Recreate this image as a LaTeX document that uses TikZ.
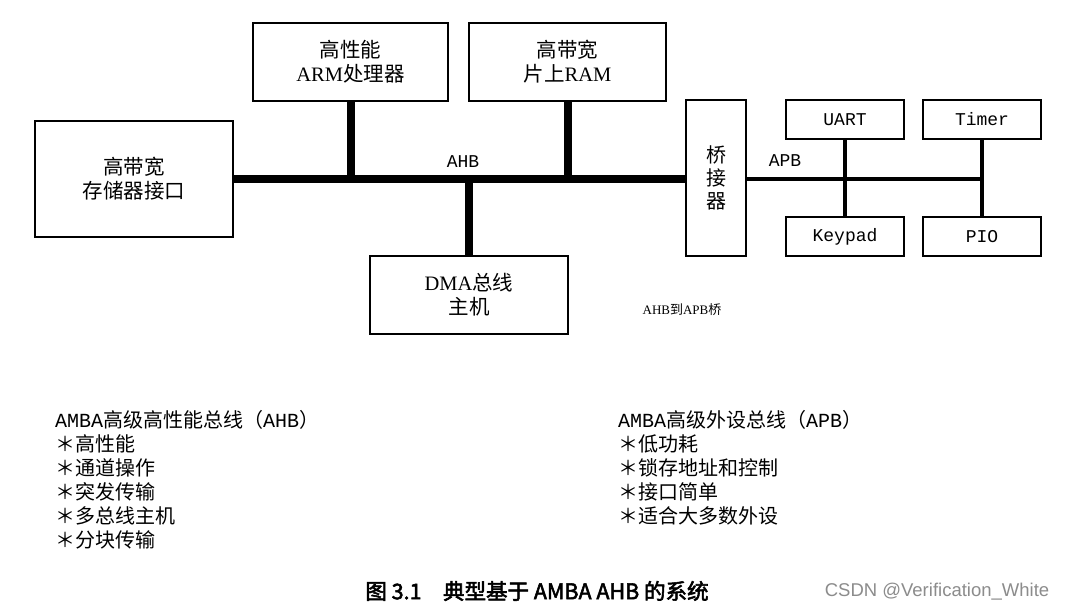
\documentclass[tikz,border=0pt]{standalone}
\usepackage{fontspec}
\setmainfont{Noto Sans CJK SC}
\newfontfamily\monofnt{Liberation Mono}
\newfontfamily\serfnt{Liberation Serif}
\newfontfamily\capfont[FakeBold=2.5]{Noto Sans CJK SC}
\newfontfamily\wmfont{Liberation Sans}
\newcommand\lm[1]{{\monofnt #1}}
\newcommand\lsr[1]{{\serfnt #1}}
\begin{document}
\begin{tikzpicture}[x=1pt,y=-1pt,
  box/.style={draw, line width=1.2pt, inner sep=0pt, align=center,
    font=\fontsize{20.5}{24}\selectfont},
  mbox/.style={box, font=\monofnt\fontsize{18}{22}\selectfont},
  ahb/.style={line width=8pt},
  apb/.style={line width=3.5pt},
  lbl/.style={inner sep=0pt, font=\monofnt\fontsize{18}{22}\selectfont},
  listtxt/.style={inner sep=0pt, anchor=north west, align=left,
    font=\fontsize{20}{24}\selectfont}]
\useasboundingbox (0,0) rectangle (1065,612);
\fill[white] (0,0) rectangle (1065,612);
% AHB side boxes
\node[box, minimum width=198pt, minimum height=116pt] (mem) at (134,179) {高带宽\\存储器接口};
\node[box, minimum width=195pt, minimum height=78pt] (arm) at (350.5,62) {高性能\\\lsr{ARM}处理器};
\node[box, minimum width=197pt, minimum height=78pt] (ram) at (567.5,62) {高带宽\\片上\lsr{RAM}};
\node[box, minimum width=198pt, minimum height=78pt] (dma) at (469,295) {\lsr{DMA}总线\\主机};
\node[box, minimum width=60pt, minimum height=156pt, font=\fontsize{20}{23}\selectfont] (bridge) at (716,178) {桥\\接\\器};
% APB side boxes
\node[mbox, minimum width=118pt, minimum height=39pt] (uart) at (845,119.5) {UART};
\node[mbox, minimum width=118pt, minimum height=39pt] (timer) at (982,119.5) {Timer};
\node[mbox, minimum width=118pt, minimum height=39pt] (keypad) at (845,236.5) {Keypad};
\node[mbox, minimum width=118pt, minimum height=39pt] (pio) at (982,236.5) {PIO};
% AHB bus
\coordinate (ahbL) at (mem.east);
\coordinate (ahbR) at (mem.east -| bridge.west);
\draw[ahb] (ahbL) -- (ahbR);
\draw[ahb] (arm.south) -- (arm.south |- ahbL);
\draw[ahb] (ram.south) -- (ram.south |- ahbL);
\draw[ahb] (dma.north) -- (dma.north |- ahbL);
% APB bus
\coordinate (apbL) at (ahbL -| bridge.east);
\coordinate (apbR) at (ahbL -| timer.south);
\draw[apb] (apbL) -- (apbR);
\draw[apb] (uart.south) -- (keypad.north);
\draw[apb] (timer.south) -- (pio.north);
% labels
\node[lbl] (ahblbl) at (463,162) {AHB};
\node[lbl] (apblbl) at (785,161) {APB};
\node[inner sep=0pt, font=\fontsize{13}{15}\selectfont] (brlbl) at (682,310) {\lsr{AHB}到\lsr{APB}桥};
% lists
\node[listtxt] (ahblist) at (55,410) {\lm{AMBA}高级高性能总线（\lm{AHB}）\\＊高性能\\＊通道操作\\＊突发传输\\＊多总线主机\\＊分块传输};
\node[listtxt] (apblist) at (618,410) {\lm{AMBA}高级外设总线（\lm{APB}）\\＊低功耗\\＊锁存地址和控制\\＊接口简单\\＊适合大多数外设};
% caption
\node[inner sep=0pt, font=\capfont\fontsize{21.5}{22}\selectfont] (cap) at (537,591) {图\ 3.1\quad 典型基于 AMBA AHB 的系统};
\node[inner sep=0pt, text=black!45, font=\wmfont\fontsize{18.5}{20}\selectfont] (wm) at (937,592) {CSDN @Verification\_White};
\end{tikzpicture}
\end{document}
